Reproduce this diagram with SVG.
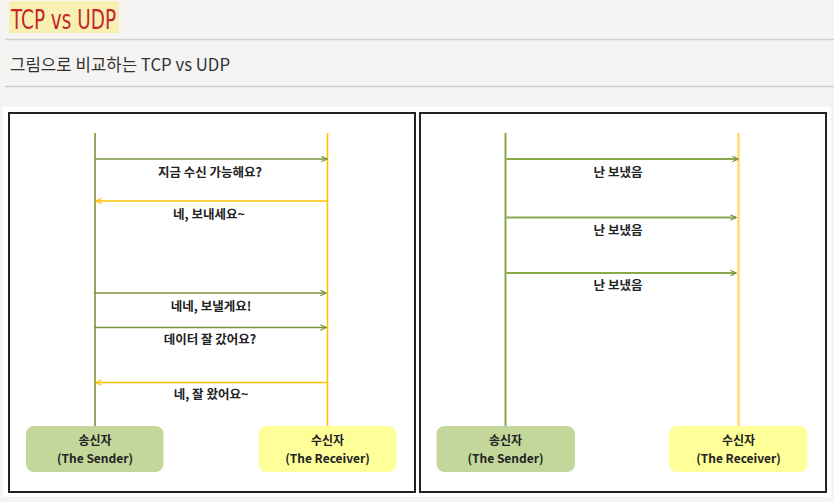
<svg xmlns="http://www.w3.org/2000/svg" width="834" height="502" viewBox="0 0 834 502">
<defs>
<style>
.lbl{font-family:"Noto Sans CJK KR","Noto Sans",sans-serif;font-weight:700;font-size:12.5px;fill:#222;text-anchor:middle}
.bx{font-family:"Noto Sans CJK KR","Noto Sans",sans-serif;font-weight:700;font-size:12px;fill:#222;text-anchor:middle}
.g{stroke:#77933c;stroke-width:1.6;fill:none}
.y{stroke:#ffc000;stroke-width:1.6;fill:none}
.g2{stroke:#8aa84e;stroke-width:2;fill:none}
.y2{stroke:#ffd966;stroke-width:2.4;fill:none}
.panel{fill:#fff;stroke:#222;stroke-width:2}
</style>
<marker id="ag" viewBox="0 0 10 10" refX="9" refY="5" markerWidth="7" markerHeight="7" markerUnits="userSpaceOnUse" orient="auto"><path d="M1,1 L9,5 L1,9" fill="none" stroke="#77933c" stroke-width="1.6"/></marker>
<marker id="ay" viewBox="0 0 10 10" refX="9" refY="5" markerWidth="7" markerHeight="7" markerUnits="userSpaceOnUse" orient="auto"><path d="M1,1 L9,5 L1,9" fill="none" stroke="#ffc000" stroke-width="1.6"/></marker>
</defs>
<rect width="834" height="502" fill="#f5f4f3"/>
<g id="header">
<rect x="9" y="1" width="110" height="32" fill="#f8f0b0"/>
<text x="11" y="29" font-family="'DejaVu Sans Condensed','Liberation Sans',sans-serif" font-size="27" fill="#c1272d" textLength="105" lengthAdjust="spacingAndGlyphs">TCP vs UDP</text>
<line x1="5" y1="39.5" x2="834" y2="39.5" stroke="#cfcfcf" stroke-width="1.5"/>
<text x="10" y="71" font-family="'Noto Sans CJK KR','Noto Sans',sans-serif" font-size="17" fill="#333" textLength="220" lengthAdjust="spacingAndGlyphs">그림으로 비교하는 TCP vs UDP</text>
<line x1="5" y1="86.5" x2="834" y2="86.5" stroke="#cfcfcf" stroke-width="1.5"/>
</g>
<rect x="3" y="107" width="828" height="390" fill="#fff"/>
<g id="tcp-panel">
<rect class="panel" x="9" y="113" width="406" height="379"/>
</g>
<g id="udp-panel">
<rect class="panel" x="420" y="113" width="406" height="379"/>
</g>
<g id="connectors">
<line class="g" x1="95" y1="133" x2="95" y2="426"/>
<line class="y" x1="327.5" y1="133" x2="327.5" y2="426"/>
<line class="g" x1="95" y1="159" x2="327" y2="159" marker-end="url(#ag)"/>
<line class="y" x1="327.5" y1="201" x2="96" y2="201" marker-end="url(#ay)"/>
<line class="g" x1="94" y1="293" x2="326" y2="293" marker-end="url(#ag)"/>
<line class="g" x1="94" y1="327.5" x2="326" y2="327.5" marker-end="url(#ag)"/>
<line class="y" x1="327.5" y1="382.5" x2="96" y2="382.5" marker-end="url(#ay)"/>
<line class="g2" x1="505.5" y1="133" x2="505.5" y2="426"/>
<line class="y2" x1="738.5" y1="133" x2="738.5" y2="426"/>
<line class="g2" x1="505" y1="159" x2="738" y2="159" marker-end="url(#ag)"/>
<line class="g2" x1="505" y1="217.5" x2="736" y2="217.5" marker-end="url(#ag)"/>
<line class="g2" x1="505" y1="273" x2="736" y2="273" marker-end="url(#ag)"/>
</g>
<g id="tcp-labels">
<text class="lbl" x="210" y="177">지금 수신 가능해요?</text>
<text class="lbl" x="209" y="219">네, 보내세요~</text>
<text class="lbl" x="211" y="311">네네, 보낼게요!</text>
<text class="lbl" x="210" y="344">데이터 잘 갔어요?</text>
<text class="lbl" x="211" y="399">네, 잘 왔어요~</text>
</g>
<g id="udp-labels">
<text class="lbl" x="618" y="177">난 보냈음</text>
<text class="lbl" x="618" y="235">난 보냈음</text>
<text class="lbl" x="618" y="290">난 보냈음</text>
</g>
<g id="tcp-sender">
<rect x="26" y="426" width="137.5" height="46" rx="8" fill="#c4d79b"/>
<text class="bx" x="95" y="445">송신자</text>
<text class="bx" x="95" y="463">(The Sender)</text>
</g>
<g id="tcp-receiver">
<rect x="258.5" y="426" width="138" height="46" rx="8" fill="#ffff99"/>
<text class="bx" x="327.5" y="445">수신자</text>
<text class="bx" x="327.5" y="463">(The Receiver)</text>
</g>
<g id="udp-sender">
<rect x="436.5" y="426" width="138.5" height="46" rx="8" fill="#c4d79b"/>
<text class="bx" x="505.5" y="445">송신자</text>
<text class="bx" x="505.5" y="463">(The Sender)</text>
</g>
<g id="udp-receiver">
<rect x="669" y="426" width="138.5" height="46" rx="8" fill="#ffff99"/>
<text class="bx" x="738.5" y="445">수신자</text>
<text class="bx" x="738.5" y="463">(The Receiver)</text>
</g>
</svg>
